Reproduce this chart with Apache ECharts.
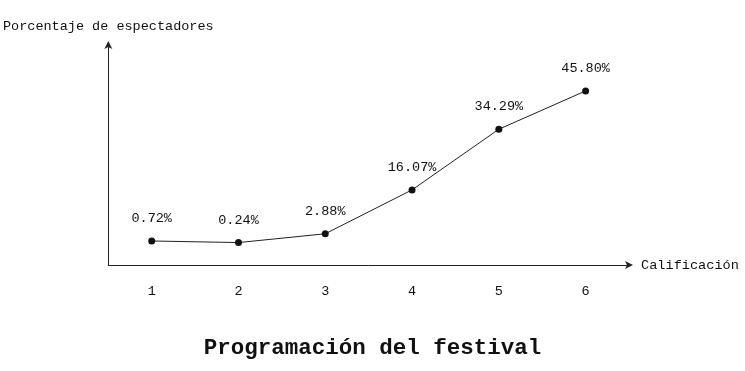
<!DOCTYPE html>
<html>
<head>
<meta charset="utf-8">
<script src="https://cdn.jsdelivr.net/npm/echarts@6/dist/echarts.min.js"></script>
<style>
html,body{margin:0;padding:0;background:#fff;}
#chart{width:745px;height:371px;}
</style>
</head>
<body>
<div id="chart"></div>
<script>
var categories = ['1', '2', '3', '4', '5', '6'];
var values = [0.72, 0.24, 2.88, 16.07, 34.29, 45.80];
var titleText = 'Programación del festival';
var xName = 'Calificación';
var yName = 'Porcentaje de espectadores';

var FONT = '"Courier New", Courier, "Nimbus Mono PS", FreeMono, "Liberation Mono", monospace';
var chart = echarts.init(document.getElementById('chart'));
chart.setOption({
  backgroundColor: '#fff',
  animation: false,
  title: {
    text: titleText,
    left: 'center',
    top: 332,
    textStyle: { fontFamily: FONT, fontSize: 22.5, fontWeight: 'bold', color: '#111' }
  },
  grid: { left: 108, right: 116, top: 45, bottom: 106 },
  xAxis: {
    type: 'category',
    data: categories,
    boundaryGap: true,
    name: xName,
    nameLocation: 'end',
    nameGap: 12,
    nameTextStyle: { fontFamily: FONT, fontSize: 13.6, color: '#111' },
    axisLine: { show: true, onZero: false, lineStyle: { color: '#222', width: 1 }, symbol: ['none', 'arrow'], symbolSize: [6, 8], symbolOffset: [0, 4] },
    axisTick: { show: false },
    axisLabel: { fontFamily: FONT, fontSize: 13.5, color: '#111', margin: 19 },
    splitLine: { show: false }
  },
  yAxis: {
    type: 'value',
    min: -6.5,
    max: 59.6,
    name: yName,
    nameLocation: 'end',
    nameGap: 12,
    nameTextStyle: { fontFamily: FONT, fontSize: 13.5, color: '#111', align: 'center' },
    axisLine: { show: true, onZero: false, lineStyle: { color: '#222', width: 1 }, symbol: ['none', 'arrow'], symbolSize: [6, 8], symbolOffset: [0, 4] },
    axisTick: { show: false },
    axisLabel: { show: false },
    splitLine: { show: false }
  },
  series: [{
    type: 'line',
    data: values,
    symbol: 'circle',
    symbolSize: 7,
    itemStyle: { color: '#111' },
    lineStyle: { color: '#222', width: 1 },
    label: {
      show: true,
      position: 'top',
      distance: 12,
      fontFamily: FONT,
      fontSize: 13.5,
      color: '#111',
      formatter: function (p) { return p.value.toFixed(2) + '%'; }
    }
  }]
});
</script>
</body>
</html>
